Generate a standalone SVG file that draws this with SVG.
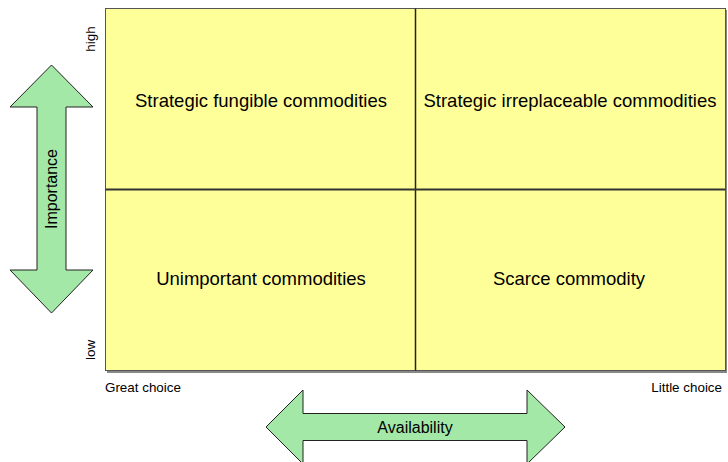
<svg xmlns="http://www.w3.org/2000/svg" width="728" height="462" viewBox="0 0 728 462">
  <defs>
    <style>
      text { font-family: "Liberation Sans", Arial, sans-serif; fill: #000; }
      .quad { font-size: 18.5px; text-anchor: middle; dominant-baseline: central; }
      .axis { font-size: 16px; text-anchor: middle; dominant-baseline: central; }
      .tick { font-size: 13.4px; }
      .arrow { fill: #a3e8a6; stroke: #222; stroke-width: 1; }
      .cell { fill: #ffff99; }
    </style>
  </defs>

  <!-- matrix background with shadow -->
  <rect x="107" y="10" width="620" height="363" fill="#888"/>
  <rect id="matrix" x="105.5" y="8.5" width="620" height="362" class="cell" stroke="#555" stroke-width="1"/>

  <g id="dividers" stroke="#222" stroke-width="1.5">
    <line x1="415.5" y1="8.5" x2="415.5" y2="370.5"/>
    <line x1="105.5" y1="189.5" x2="725.5" y2="189.5" stroke-width="2" stroke="#333"/>
  </g>

  <g id="q-tl"><text class="quad" x="261" y="100">Strategic fungible commodities</text></g>
  <g id="q-tr"><text class="quad" x="570" y="100">Strategic irreplaceable commodities</text></g>
  <g id="q-bl"><text class="quad" x="261" y="278">Unimportant commodities</text></g>
  <g id="q-br"><text class="quad" x="569" y="278">Scarce commodity</text></g>

  <!-- axis end labels -->
  <text class="tick" transform="translate(95,39) rotate(-90)" text-anchor="middle">high</text>
  <text class="tick" transform="translate(95,350) rotate(-90)" text-anchor="middle">low</text>
  <text class="tick" x="105" y="392">Great choice</text>
  <text class="tick" x="722" y="392" text-anchor="end">Little choice</text>

  <!-- importance axis arrow -->
  <g id="importance">
    <polygon class="arrow" points="51.5,65 93,107 66,107 66,270 93,270 51.5,313 10,270 37,270 37,107 10,107"/>
    <text class="axis" transform="translate(51.5,189) rotate(-90)">Importance</text>
  </g>

  <!-- availability axis arrow -->
  <g id="availability">
    <polygon class="arrow" points="266,427 303,390 303,413.5 527,413.5 527,390 565,427 527,464 527,440.5 303,440.5 303,464"/>
    <text class="axis" x="415" y="427">Availability</text>
  </g>
</svg>
